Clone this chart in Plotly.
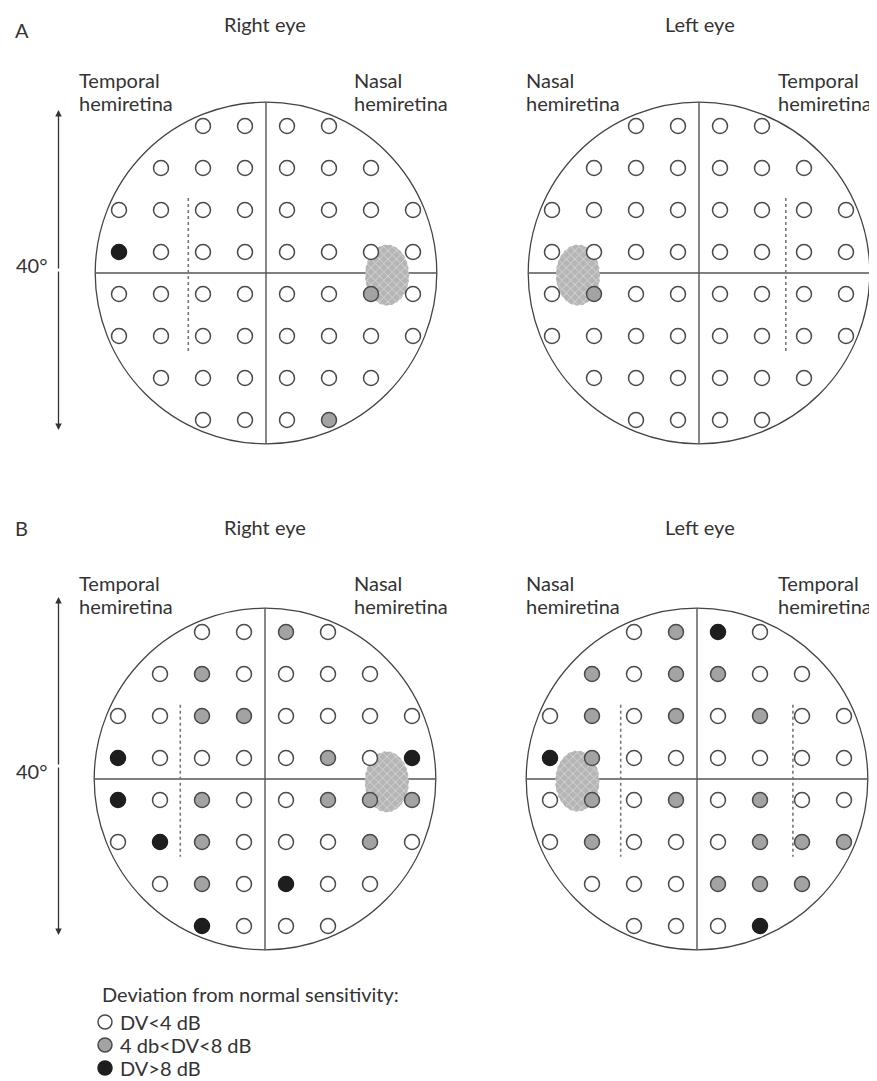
import numpy as np
import plotly.graph_objects as go

# The page body has an 8 px margin: the figure is laid out in reference pixels
# and shifted by OFF so it lands where the reference shows it.
OFF = 8
W, H = 877 - OFF, 1081 - OFF
PX_PER_UNIT = 7.0      # 6 degrees between test points = 42 px
HALF = 25.0            # half-range of each field axis (degrees)
FIELD_R = 24.4         # radius of the drawn field circle (degrees)

# ---------------- data ----------------
ROW_Y = [21, 15, 9, 3, -3, -9, -15, -21]
COL_X = [-21, -15, -9, -3, 3, 9, 15, 21]
# o = DV<4 dB, g = 4<DV<8 dB, b = DV>8 dB, . = not tested
RIGHT_A = ["..oooo..", ".oooooo.", "oooooooo", "booooooo",
           "oooooogo", "oooooooo", ".oooooo.", "..ooog.."]
LEFT_A = ["..oooo..", ".oooooo.", "oooooooo", "oooooooo",
          "ogoooooo", "oooooooo", ".oooooo.", "..oooo.."]
RIGHT_B = ["..oogo..", ".ogoooo.", "ooggoooo", "boooogob",
           "bogooggg", "obgooogo", ".ogoboo.", "..booo.."]
LEFT_B = ["..ogbo..", ".goggoo.", "ogogogoo", "bgoooooo",
          "ogogogoo", "ogoooggg", ".oooggg.", "..ooob.."]

PANEL_GRIDS = [RIGHT_A, LEFT_A, RIGHT_B, LEFT_B]
PANEL_CENTERS_PX = [(266, 273), (699, 273), (265, 779), (697, 779)]
DOTTED_X = [[-11.1], [12.4], [-12.1], [-10.9, 13.7]]
DOTTED_Y = [(10.7, -11.2), (10.7, -11.2), (10.6, -11.1), (10.6, -11.1)]
BLIND_X = [17.3, -17.3, 17.4, -17.1]
BLIND_Y = [-0.3, -0.3, -0.4, -0.3]
BLIND_AX = (3.1, 4.3)

CATS = ["o", "g", "b"]
CAT_LABELS = ["DV<4 dB", "4 db<DV<8 dB", "DV>8 dB"]
CAT_FILL = ["#ffffff", "#a3a3a3", "#1e1e1e"]
CAT_LINE = ["#4a4a4a", "#4a4a4a", "#1e1e1e"]

FONT = dict(family="Lato, 'Open Sans', sans-serif", size=20, color="#333333")

fig = go.Figure()
shapes, annotations = [], []
layout_axes = {}


def px_to_paper(px, py):
    return (px - OFF) / W, 1 - (py - OFF) / H


for i, (grid, (cx, cy)) in enumerate(zip(PANEL_GRIDS, PANEL_CENTERS_PX)):
    k = i + 1
    xa = "x" if k == 1 else f"x{k}"
    ya = "y" if k == 1 else f"y{k}"
    xname = "xaxis" if k == 1 else f"xaxis{k}"
    yname = "yaxis" if k == 1 else f"yaxis{k}"
    span = HALF * PX_PER_UNIT
    fx, fy = cx - OFF, cy - OFF
    layout_axes[xname] = dict(domain=[(fx - span) / W, (fx + span) / W],
                              range=[-HALF, HALF], visible=False, fixedrange=True,
                              anchor=ya)
    layout_axes[yname] = dict(domain=[1 - (fy + span) / H, 1 - (fy - span) / H],
                              range=[-HALF, HALF], visible=False, fixedrange=True,
                              anchor=xa)
    # field outline and meridians
    shapes.append(dict(type="circle", xref=xa, yref=ya, x0=-FIELD_R, x1=FIELD_R,
                       y0=-FIELD_R, y1=FIELD_R, line=dict(color="#444444", width=1.3),
                       layer="below"))
    shapes.append(dict(type="line", xref=xa, yref=ya, x0=-FIELD_R, x1=FIELD_R, y0=0, y1=0,
                       line=dict(color="#555555", width=1.4), layer="below"))
    shapes.append(dict(type="line", xref=xa, yref=ya, x0=0, x1=0, y0=-FIELD_R, y1=FIELD_R,
                       line=dict(color="#555555", width=1.4), layer="below"))
    for dx in DOTTED_X[i]:
        shapes.append(dict(type="line", xref=xa, yref=ya, x0=dx, x1=dx,
                           y0=DOTTED_Y[i][0], y1=DOTTED_Y[i][1],
                           line=dict(color="#777777", width=1.6, dash="dot"), layer="below"))
    # blind spot
    t = np.linspace(0, 2 * np.pi, 60)
    fig.add_trace(go.Scatter(
        x=BLIND_X[i] + BLIND_AX[0] * np.cos(t), y=BLIND_Y[i] + BLIND_AX[1] * np.sin(t),
        mode="lines", fill="toself", xaxis=xa, yaxis=ya,
        line=dict(color="#b5b5b5", width=1, dash="dot"),
        fillcolor="#bdbdbd",
        fillpattern=dict(shape="x", bgcolor="#b5b5b5", fgcolor="#ffffff", size=6, solidity=0.25),
        hoverinfo="skip", showlegend=False))
    # test points
    for c, fillc, linec in zip(CATS, CAT_FILL, CAT_LINE):
        xs, ys = [], []
        for ry, row in zip(ROW_Y, grid):
            for cxv, ch in zip(COL_X, row):
                if ch == c:
                    xs.append(cxv)
                    ys.append(ry)
        fig.add_trace(go.Scatter(x=xs, y=ys, mode="markers", xaxis=xa, yaxis=ya,
                                 marker=dict(size=15, color=fillc,
                                             line=dict(color=linec, width=1.5)),
                                 showlegend=False, hoverinfo="skip"))

# ---------------- text ----------------
def txt(text, px, py, xanchor="left"):
    x, y = px_to_paper(px, py)
    annotations.append(dict(text=text, x=x, y=y, xref="paper", yref="paper",
                            xanchor=xanchor, yanchor="middle", showarrow=False, font=FONT))

for dy, letter in [(0, "A"), (503, "B")]:
    txt(letter, 13, 30 + dy - (5 if letter == "B" else 0))
    txt("Right eye", 265, 24 + dy, "center")
    txt("Left eye", 700, 24 + dy, "center")
    txt("Temporal", 77, 80 + dy)
    txt("hemiretina", 77, 103 + dy)
    txt("Nasal", 352, 80 + dy)
    txt("hemiretina", 352, 103 + dy)
    txt("Nasal", 524, 80 + dy)
    txt("hemiretina", 524, 103 + dy)
    txt("Temporal", 776, 80 + dy)
    txt("hemiretina", 776, 103 + dy)

txt("40°", 14, 265)
txt("40°", 14, 771)

# 40 degree arrows
for top, bot in [(110, 430), (597, 935)]:
    mid = (top + bot) / 2
    for tip, off in [(top, mid - top), (bot, mid - bot)]:
        x, y = px_to_paper(58.5, tip)
        annotations.append(dict(text="", x=x, y=y, xref="paper", yref="paper",
                                ax=0, ay=off, axref="pixel", ayref="pixel",
                                showarrow=True, arrowhead=2, arrowsize=1,
                                arrowwidth=1.3, arrowcolor="#333333", standoff=0))

# ---------------- legend key ----------------
txt("Deviation from normal sensitivity:", 100, 994)
layout_axes["xaxis5"] = dict(domain=[(95 - OFF) / W, (115 - OFF) / W], range=[-1, 1],
                             visible=False, fixedrange=True, anchor="y5")
layout_axes["yaxis5"] = dict(domain=[1 - (1079.5 - OFF) / H, 1 - (1010.5 - OFF) / H],
                             range=[2.5, -0.5], visible=False, fixedrange=True, anchor="x5")
for j, (lab, fillc, linec) in enumerate(zip(CAT_LABELS, CAT_FILL, CAT_LINE)):
    fig.add_trace(go.Scatter(x=[0], y=[j], mode="markers", xaxis="x5", yaxis="y5",
                             marker=dict(size=14, color=fillc, line=dict(color=linec, width=1.5)),
                             showlegend=False, hoverinfo="skip"))
    annotations.append(dict(text=lab, x=0, y=j, xref="x5", yref="y5", xshift=13,
                            xanchor="left", yanchor="middle", showarrow=False, font=FONT))

fig.update_layout(width=W, height=H, autosize=False,
                  margin=dict(l=0, r=0, t=0, b=0),
                  paper_bgcolor="white", plot_bgcolor="rgba(0,0,0,0)",
                  shapes=shapes, annotations=annotations, **layout_axes)
fig.write_html("out.html")
